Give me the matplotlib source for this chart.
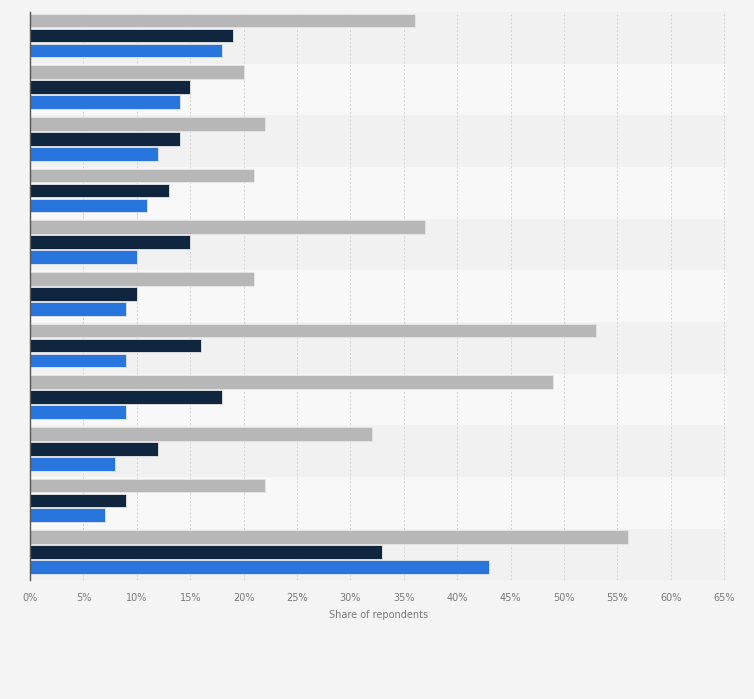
import numpy as np
import matplotlib
matplotlib.use('agg')
import matplotlib.pyplot as plt
from matplotlib.ticker import MultipleLocator, FuncFormatter

# Values (share of respondents, %), top group first
groups = ['G1', 'G2', 'G3', 'G4', 'G5', 'G6', 'G7', 'G8', 'G9', 'G10', 'G11']
gray_vals = [36, 20, 22, 21, 37, 21, 53, 49, 32, 22, 56]
navy_vals = [19, 15, 14, 13, 15, 10, 16, 18, 12, 9, 33]
blue_vals = [18, 14, 12, 11, 10, 9, 9, 9, 8, 7, 43]
x_label = 'Share of repondents'

fig = plt.figure(figsize=(7.54, 6.99), dpi=100, facecolor='#f4f4f4')
ax = fig.add_axes([0.0398, 0.170, 0.925, 0.813])
ax.set_facecolor('#f4f4f4')

n = len(groups)
pos = np.arange(n) - 0.045
h = 0.265

# alternating row bands
for i in range(n):
    ax.axhspan(i - 0.5, i + 0.5, color='#f1f1f1' if i % 2 == 0 else '#f8f8f8', zorder=0, lw=0)

ax.barh(pos - 0.29, gray_vals, height=h, color='#b7b7b7', edgecolor='#e6e6e6', lw=0.6, zorder=3)
ax.barh(pos, navy_vals, height=h, color='#10263f', edgecolor='#e6e6e6', lw=0.6, zorder=3)
ax.barh(pos + 0.29, blue_vals, height=h, color='#2876dd', edgecolor='#e6e6e6', lw=0.6, zorder=3)

ax.set_ylim(n - 0.5, -0.5)
ax.set_xlim(0, 65.3)
ax.xaxis.set_major_locator(MultipleLocator(5))
ax.xaxis.set_major_formatter(FuncFormatter(lambda v, p: '%d%%' % round(v)))
ax.set_yticks([])
ax.grid(axis='x', color='#d2d2d2', linestyle=(0, (2, 2)), lw=0.7, zorder=1)
ax.tick_params(axis='x', length=0, labelsize=7, labelcolor='#777777', pad=9)
for s in ['top', 'right', 'bottom']:
    ax.spines[s].set_visible(False)
ax.spines['left'].set_color('#555555')
ax.spines['left'].set_linewidth(1)
ax.spines['left'].set_zorder(5)
ax.set_xlabel(x_label, fontsize=7, color='#777777', labelpad=5)

fig.savefig('out.png', dpi=100, facecolor=fig.get_facecolor())
